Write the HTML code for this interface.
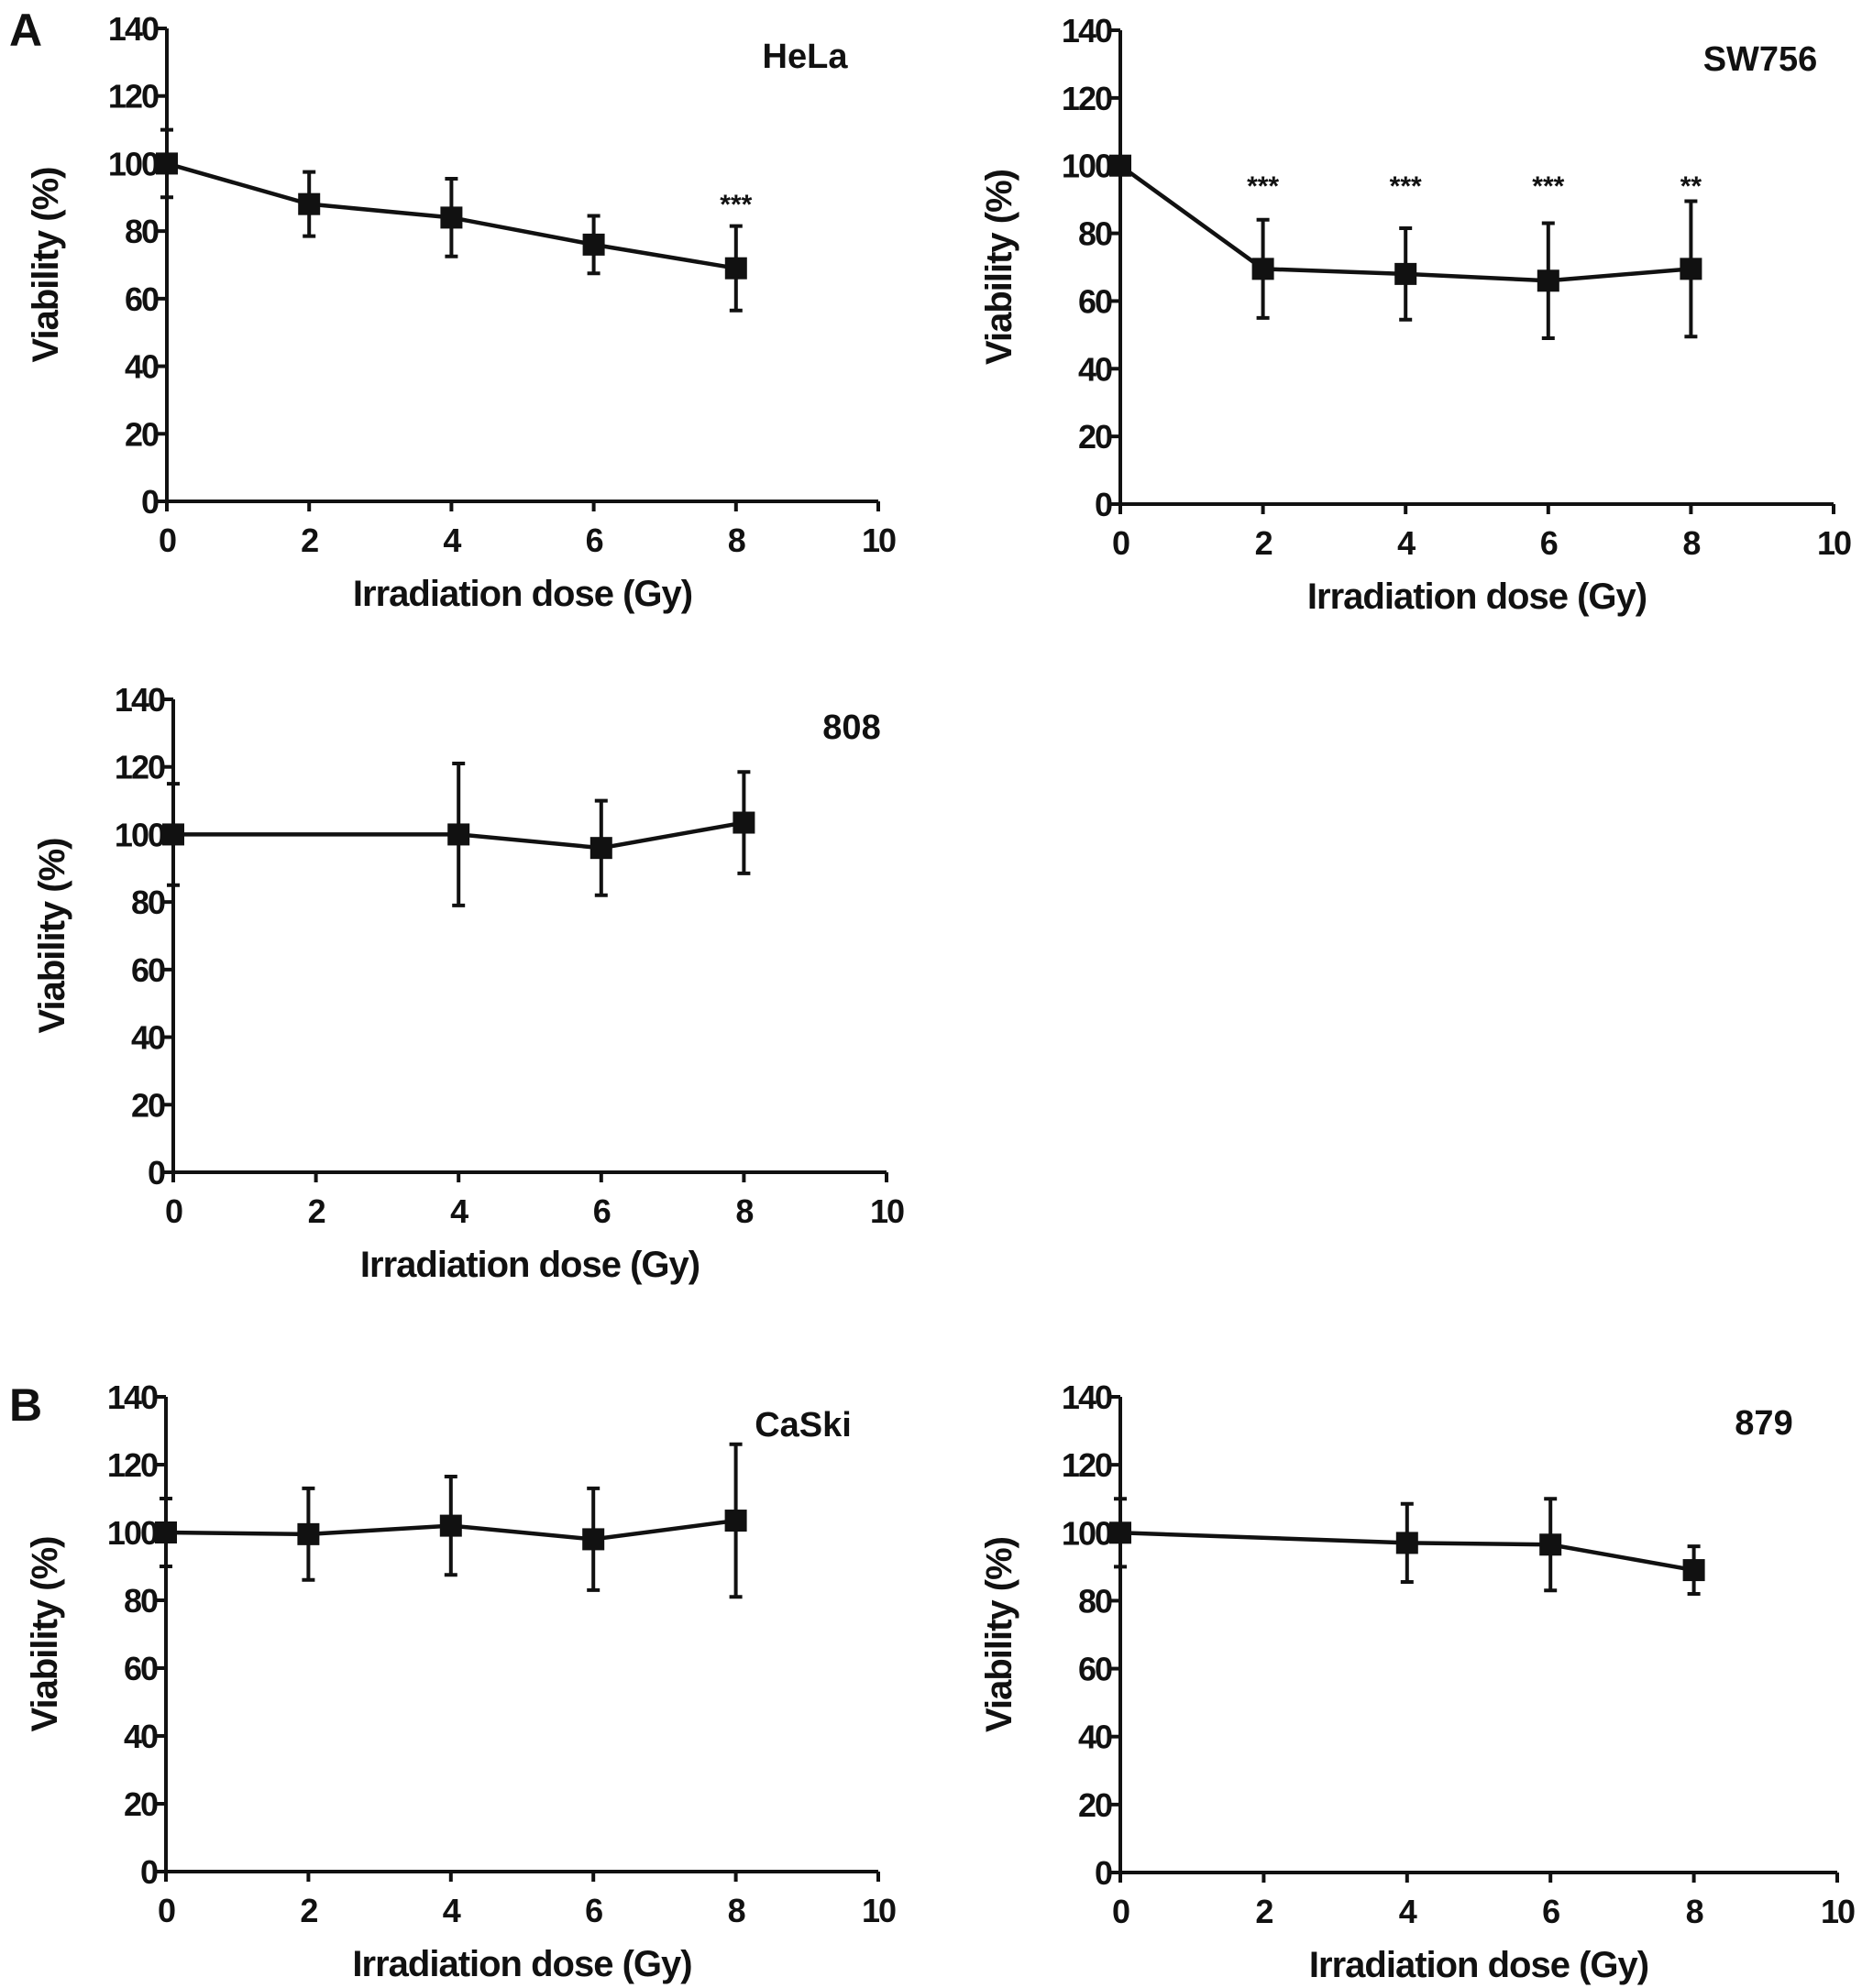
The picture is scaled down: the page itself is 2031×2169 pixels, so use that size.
<!DOCTYPE html>
<html><head><meta charset="utf-8"><style>
html,body{margin:0;padding:0;background:#fff}
svg{display:block}
text{font-family:"Liberation Sans",sans-serif;font-weight:bold;fill:#111}
</style></head><body>
<svg id="fig" width="2031" height="2169" viewBox="0 0 2031 2169" xmlns="http://www.w3.org/2000/svg">
<text x="10" y="50" font-size="50">A</text>
<text x="10" y="1550" font-size="50">B</text>
</svg>
<script>
const xTicks = [0, 2, 4, 6, 8, 10];
const yTicks = [0, 20, 40, 60, 80, 100, 120, 140];

const helaX = [0, 2, 4, 6, 8];
const helaY = [100, 88, 84, 76, 69];
const helaErr = [10, 9.5, 11.5, 8.5, 12.5];
const helaStars = ["", "", "", "", "***"];
const helaStarLevel = 89;

const swX = [0, 2, 4, 6, 8];
const swY = [100, 69.5, 68, 66, 69.5];
const swErr = [0, 14.5, 13.5, 17, 20];
const swStars = ["", "***", "***", "***", "**"];
const swStarLevel = 95;

const c808X = [0, 4, 6, 8];
const c808Y = [100, 100, 96, 103.5];
const c808Err = [15, 21, 14, 15];
const c808Stars = ["", "", "", ""];

const caskiX = [0, 2, 4, 6, 8];
const caskiY = [100, 99.5, 102, 98, 103.5];
const caskiErr = [10, 13.5, 14.5, 15, 22.5];
const caskiStars = ["", "", "", "", ""];

const c879X = [0, 4, 6, 8];
const c879Y = [100, 97, 96.5, 89];
const c879Err = [10, 11.5, 13.5, 7];
const c879Stars = ["", "", "", ""];

const NS = "http://www.w3.org/2000/svg";
const svg = document.getElementById('fig');
function mk(tag, attrs, parent){
  const e = document.createElementNS(NS, tag);
  for (const k in attrs) e.setAttribute(k, attrs[k]);
  (parent || svg).appendChild(e);
  return e;
}

function panel(name, title, L, R, T, B, xs, ys, errs, stars, starLevel, tx, ty){
  const g = mk('g', {});
  
  
  const sx = v => L + (R - L) * v / 10;
  const sy = v => B - (B - T) * v / 140;
  const ya = mk('line', {x1:L, y1:T, x2:L, y2:B+2, stroke:'#111','stroke-width':4}, g);
  
  
  const xa = mk('line', {x1:L-2, y1:B, x2:R, y2:B, stroke:'#111','stroke-width':4}, g);
  
  
  yTicks.forEach(v => {
    mk('line', {x1:L-11, y1:sy(v), x2:L, y2:sy(v), stroke:'#111','stroke-width':4}, g);
    const t = mk('text', {x:L-10, y:sy(v)+13, 'font-size':36, 'text-anchor':'end', 'letter-spacing':'-2'}, g);
    t.textContent = v;
    
    
  });
  xTicks.forEach(v => {
    mk('line', {x1:sx(v), y1:B, x2:sx(v), y2:B+11, stroke:'#111','stroke-width':4}, g);
    const t = mk('text', {x:sx(v), y:B+55, 'font-size':36, 'text-anchor':'middle', 'letter-spacing':'-2'}, g);
    t.textContent = v;
    
    
  });
  const xt = mk('text', {x:(L+R)/2, y:B+114, 'font-size':40, 'text-anchor':'middle', 'letter-spacing':'-1'}, g);
  xt.textContent = 'Irradiation dose (Gy)';
  
  
  const yc = (T+B)/2, yx = L - 132;
  const yt = mk('text', {x:yx, y:yc, 'font-size':40, 'text-anchor':'middle', 'letter-spacing':'-1', 'dominant-baseline':'central', transform:'rotate(-90 '+yx+' '+yc+')'}, g);
  yt.textContent = 'Viability (%)';
  
  
  const tt = mk('text', {x:tx, y:ty, 'font-size':38, 'text-anchor':'middle'}, g);
  tt.textContent = title;
  
  
  const pts = xs.map((x,i) => sx(x)+','+sy(ys[i])).join(' ');
  const pl = mk('polyline', {points:pts, fill:'none', stroke:'#111','stroke-width':4.5}, g);
  
  
  xs.forEach((x,i) => {
    const cx = sx(x), cy = sy(ys[i]);
    if (errs[i] > 0) {
      const top = sy(ys[i]+errs[i]), bot = sy(ys[i]-errs[i]);
      const eb = mk('path', {d:'M'+cx+' '+top+'V'+bot+'M'+(cx-7)+' '+top+'H'+(cx+7)+'M'+(cx-7)+' '+bot+'H'+(cx+7), stroke:'#111','stroke-width':4, fill:'none'}, g);
      
      
    }
    const m = mk('rect', {x:cx-12, y:cy-12, width:24, height:24, fill:'#111'}, g);
    
    
    if (stars[i]) {
      const s = mk('text', {x:cx, y:sy(starLevel) + 14, 'font-size':30, 'text-anchor':'middle', 'font-weight':'normal'}, g);
      s.textContent = stars[i];
      
      
    }
  });
}

panel('hela', 'HeLa', 182, 958, 31, 547, helaX, helaY, helaErr, helaStars, helaStarLevel, 878, 74);
panel('sw756', 'SW756', 1222, 2000, 33, 550, swX, swY, swErr, swStars, swStarLevel, 1920, 77);
panel('c808', '808', 189, 967, 763, 1279, c808X, c808Y, c808Err, c808Stars, 0, 929, 806);
panel('caski', 'CaSki', 181, 958, 1524, 2042, caskiX, caskiY, caskiErr, caskiStars, 0, 876, 1567);
panel('c879', '879', 1222, 2004, 1524, 2043, c879X, c879Y, c879Err, c879Stars, 0, 1924, 1565);
</script>
</body></html>
